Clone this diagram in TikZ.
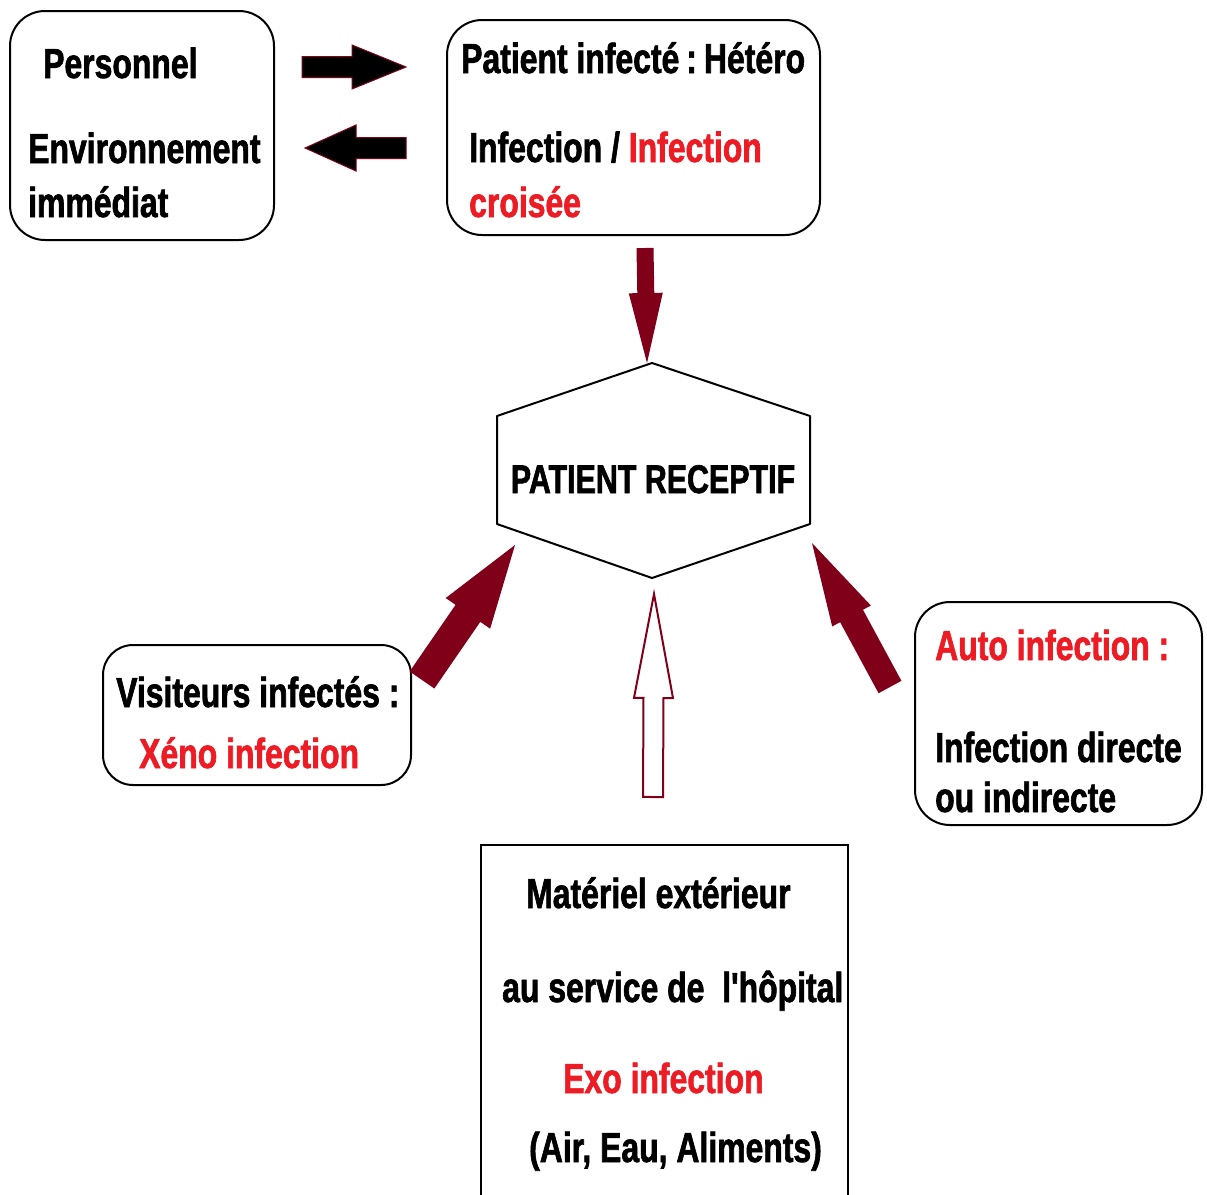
\documentclass[tikz,border=0pt]{standalone}
\usepackage{fontspec}
\newfontfamily\nb{Liberation Sans}[FakeStretch=0.76, BoldFeatures={FakeBold=1.5}]
\usetikzlibrary{calc}
\definecolor{txtred}{RGB}{237,28,36}
\definecolor{arrred}{RGB}{128,0,26}
\newcommand\barrow[6]{%
  \path[#1] ($(#2)!#4!90:(#3)$) -- ($(#3)!#5!(#2)!#4!90:(#3)$) -- ($(#3)!#5!(#2)!#6!90:(#3)$) -- (#3)
    -- ($(#3)!#5!(#2)!#6!-90:(#3)$) -- ($(#3)!#5!(#2)!#4!-90:(#3)$) -- ($(#2)!#4!-90:(#3)$) -- cycle;}
\begin{document}
\begin{tikzpicture}[x=1pt,y=-1pt,
  txt/.style={inner sep=0pt, anchor=base west, font=\nb\bfseries\fontsize{42}{50}\selectfont},
  red/.style={text=txtred},
  rbox/.style={draw=black, line width=2pt, rounded corners=#1},
  rbox/.default=35pt]
\useasboundingbox (0,0) rectangle (1207,1194);

% boxes
\node[rbox, minimum width=264pt, minimum height=229pt] (b1) at (142,125.5) {};
\node[rbox, minimum width=373pt, minimum height=215pt] (b2) at (633.5,127.5) {};
\node[rbox=30pt, minimum width=308pt, minimum height=140pt] (b3) at (257,715) {};
\node[rbox, minimum width=287pt, minimum height=223pt] (b4) at (1058.5,713.5) {};
\node[draw=black, line width=2pt, minimum width=367pt, minimum height=360pt] (b5) at (664.5,1025) {};

% hexagon
\coordinate (h1) at (652,363);
\coordinate (h2) at (810,416);
\coordinate (h3) at (810,524);
\coordinate (h4) at (652,578);
\coordinate (h5) at (497,524);
\coordinate (h6) at (497,416);
\draw[line width=2pt, line join=round] (h1) -- (h2) -- (h3) -- (h4) -- (h5) -- (h6) -- cycle;

% texts
\node[txt] (t1) at (43,78) {Personnel};
\node[txt] (t2) at (28,163) {Environnement};
\node[txt] (t3) at (28,217) {immédiat};
\node[txt] (t4) at (461,73) {Patient infecté\,:\,Hétéro};
\node[txt] (t5) at (469,162) {Infection / \textcolor{txtred}{Infection}};
\node[txt, red] (t6) at (469,217) {croisée};
\node[txt, anchor=base, font=\nb\bfseries\fontsize{40}{48}\selectfont] (t7) at (653,493) {PATIENT RECEPTIF};
\node[txt] (t8) at (116,707) {Visiteurs infectés :};
\node[txt, red] (t9) at (139,768) {Xéno infection};
\node[txt, red] (t10) at (935,660) {Auto infection :};
\node[txt] (t11) at (935,762) {Infection directe};
\node[txt] (t12) at (935,812) {ou indirecte};
\node[txt] (t13) at (526,908) {Matériel extérieur};
\node[txt] (t14) at (502,1002) {au service de~~l'hôpital};
\node[txt, red] (t15) at (563,1093) {Exo infection};
\node[txt] (t16) at (529,1162) {(Air, Eau, Aliments)};

% arrows
\coordinate (a1s) at (302,67);  \coordinate (a1e) at (406,67);
\coordinate (a2s) at (406,148); \coordinate (a2e) at (305,148);
\coordinate (a3s) at (645,248); \coordinate (a3e) at (647,363);
\coordinate (a4s) at (422,680); \coordinate (a4e) at (515,545);
\coordinate (a5s) at (890,687); \coordinate (a5e) at (812,543);
\coordinate (a6s) at (653,797); \coordinate (a6e) at (654,594);
\barrow{fill=black, draw=arrred, line width=1pt}{a1s}{a1e}{10.5pt}{54pt}{22pt}
\barrow{fill=black, draw=arrred, line width=1pt}{a2s}{a2e}{10.5pt}{51pt}{23pt}
\barrow{fill=arrred}{a3s}{a3e}{8.5pt}{70pt}{17pt}
\barrow{fill=arrred}{a4s}{a4e}{15pt}{83pt}{27pt}
\barrow{fill=arrred}{a5s}{a5e}{13pt}{83pt}{22pt}
\barrow{fill=white, draw=arrred, line width=2pt}{a6s}{a6e}{10pt}{104pt}{19.5pt}
\end{tikzpicture}
\end{document}
